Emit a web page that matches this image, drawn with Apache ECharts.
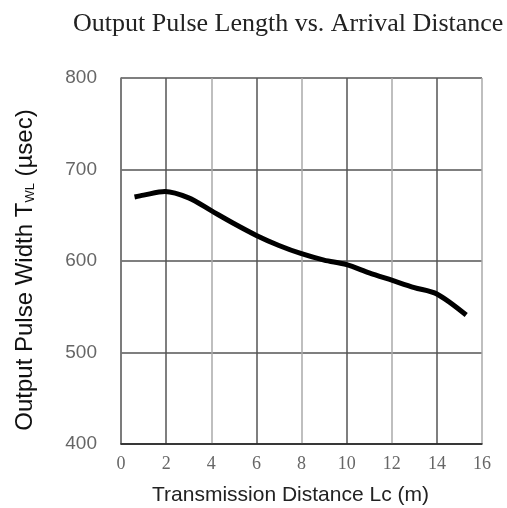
<!DOCTYPE html>
<html><head><meta charset="utf-8">
<script src="https://cdn.jsdelivr.net/npm/echarts@6/dist/echarts.min.js"></script>
<style>html,body{margin:0;padding:0;background:#fff}#c{width:507px;height:508px}</style>
</head><body><div id="c"></div>
<script>
var distance = [0.6, 1, 1.95, 3, 4, 5, 6, 7, 8, 9, 10, 11, 12, 13, 14, 15.3];
var pulseWidth = [670, 672, 676, 669, 655, 641, 628, 617, 608, 601, 596, 587, 579, 571, 564, 541];
var xTicks = [0, 2, 4, 6, 8, 10, 12, 14, 16];
var yTicks = [400, 500, 600, 700, 800];

var chart = echarts.init(document.getElementById('c'));
chart.setOption({
  animation: false,
  title: {
    text: 'Output Pulse Length vs. Arrival Distance',
    left: 68, top: 6,
    textStyle: {fontFamily: 'Liberation Serif', fontSize: 26, fontWeight: 'normal', color: '#222'}
  },
  grid: {left: 121, right: 25, top: 78, bottom: 64, outerBoundsMode: 'none', containLabel: false},
  xAxis: {
    type: 'value', min: xTicks[0], max: xTicks[xTicks.length-1], interval: 2,
    name: 'Transmission Distance Lc (m)', nameLocation: 'middle', nameGap: 41,
    nameTextStyle: {fontFamily: 'Liberation Sans', fontSize: 21, color: '#222', padding: [0, 22, 0, 0]},
    axisLine: {lineStyle: {color: '#222', width: 1.5}},
    axisTick: {show: false},
    axisLabel: {margin: 11, fontFamily: 'Liberation Serif', fontSize: 18, color: '#666'},
    splitLine: {show: true, lineStyle: {color: ['#aaa', '#555'], width: 1.5}}
  },
  yAxis: {
    type: 'value', min: yTicks[0], max: yTicks[yTicks.length-1], interval: 100,
    name: '{a|Output Pulse Width T}{b|WL}{a| (µsec)}', nameLocation: 'middle', nameGap: 84, nameRotate: 90,
    nameTextStyle: {
      padding: [0, 18, 0, 0],
      rich: {
        a: {fontFamily: 'Liberation Sans', fontSize: 24, color: '#111'},
        b: {fontFamily: 'Liberation Sans', fontSize: 13, color: '#111', verticalAlign: 'bottom', padding: [7, 0, 0, 0]}
      }
    },
    axisLine: {show: true, lineStyle: {color: '#666', width: 1.5}},
    axisTick: {show: false},
    axisLabel: {margin: 24, fontFamily: 'Liberation Sans', fontSize: 19, color: '#666'},
    splitLine: {show: true, lineStyle: {color: '#555', width: 1.5}}
  },
  series: [{
    type: 'line',
    data: distance.map(function (d, i) { return [d, pulseWidth[i]]; }),
    showSymbol: false, smooth: 0.3,
    lineStyle: {color: '#000', width: 5}
  }]
});
</script></body></html>
